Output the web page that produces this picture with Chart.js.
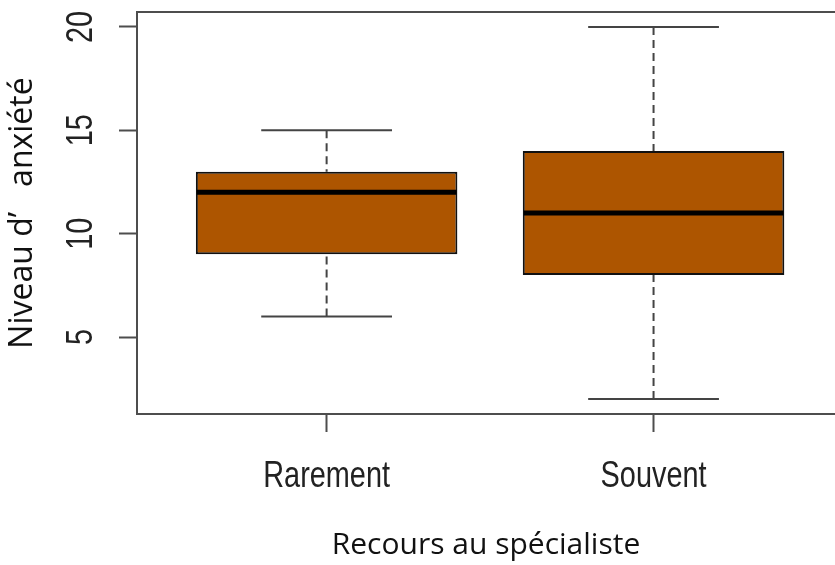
<!DOCTYPE html>
<html>
<head>
<meta charset="utf-8">
<script src="https://cdn.jsdelivr.net/npm/chart.js@4"></script>
<style>
  html, body { margin: 0; padding: 0; background: #fff; }
  #wrap { width: 835px; height: 565px; position: relative; }
</style>
</head>
<body>
<div id="wrap"><canvas id="myChart"></canvas></div>
<script>
// data
const categories = ["Rarement", "Souvent"];
const whiskerLow = [6, 2];
const q1 = [9, 8];
const median = [12, 11];
const q3 = [13, 14];
const whiskerHigh = [15, 20];
const yTicks = [5, 10, 15, 20];

const tickFont = "37px 'Liberation Sans', Arial, sans-serif";
const titleFont = "'Open Sans', 'Noto Sans', sans-serif";
const frameColor = "#4d4d4d";

// setup
const data = {
    labels: categories,
    datasets: [
        {
            label: "Niveau d’anxiété",
            data: categories.map((c, i) => ({ x: i + 1, y: [q1[i], q3[i]] })),
            backgroundColor: "rgb(173, 85, 0)",
            borderColor: "#111",
            borderWidth: 2,
            borderSkipped: false,
            barPercentage: 0.8,
            categoryPercentage: 1.0,
        },
    ],
};

// whiskers, caps and medians drawn from the same scales
const boxWhiskers = {
    id: "boxWhiskers",
    beforeDatasetsDraw(chart) {
        const { ctx, scales: { x, y } } = chart;
        const meta = chart.getDatasetMeta(0);
        ctx.save();
        ctx.strokeStyle = "#444";
        ctx.lineWidth = 2;
        meta.data.forEach((bar, i) => {
            const cx = x.getPixelForValue(i + 1);
            const half = bar.width / 4;
            ctx.setLineDash([8, 5]);
            ctx.beginPath();
            ctx.moveTo(cx, y.getPixelForValue(whiskerHigh[i]));
            ctx.lineTo(cx, y.getPixelForValue(q3[i]));
            ctx.moveTo(cx, y.getPixelForValue(whiskerLow[i]));
            ctx.lineTo(cx, y.getPixelForValue(q1[i]));
            ctx.stroke();
            ctx.setLineDash([]);
            ctx.beginPath();
            [whiskerHigh[i], whiskerLow[i]].forEach((v) => {
                const py = y.getPixelForValue(v);
                ctx.moveTo(cx - half, py);
                ctx.lineTo(cx + half, py);
            });
            ctx.stroke();
        });
        ctx.restore();
    },
    afterDatasetsDraw(chart) {
        const { ctx, scales: { x, y } } = chart;
        const meta = chart.getDatasetMeta(0);
        ctx.save();
        ctx.strokeStyle = "#000";
        ctx.lineWidth = 5;
        meta.data.forEach((bar, i) => {
            const cx = x.getPixelForValue(i + 1);
            const py = y.getPixelForValue(median[i]);
            ctx.beginPath();
            ctx.moveTo(cx - bar.width / 2 + 1, py);
            ctx.lineTo(cx + bar.width / 2 - 1, py);
            ctx.stroke();
        });
        ctx.restore();
    },
    afterDraw(chart) {
        const { ctx, chartArea: { left, top, right }, scales: { x, y } } = chart;
        ctx.save();
        // top side of the plot frame (right side falls outside the picture)
        ctx.strokeStyle = frameColor;
        ctx.lineWidth = 2;
        ctx.beginPath();
        ctx.moveTo(left - 1, top);
        ctx.lineTo(right, top);
        ctx.stroke();

        // narrow tick labels, like the R device font
        ctx.fillStyle = "#222";
        ctx.font = tickFont;
        ctx.textAlign = "center";
        ctx.textBaseline = "alphabetic";
        x.ticks.forEach((t) => {
            ctx.save();
            ctx.translate(x.getPixelForValue(t.value), x.top + 73);
            ctx.scale(0.78, 1);
            ctx.fillText(categories[t.value - 1], 0, 0);
            ctx.restore();
        });
        y.ticks.forEach((t) => {
            ctx.save();
            ctx.translate(y.right - 45, y.getPixelForValue(t.value));
            ctx.rotate(-Math.PI / 2);
            ctx.scale(0.78, 1);
            ctx.fillText(String(t.value), 0, 0);
            ctx.restore();
        });
        ctx.restore();
    },
};

// config
const config = {
    type: "bar",
    data,
    options: {
        responsive: true,
        maintainAspectRatio: false,
        animation: false,
        layout: {
            padding: { top: 12, right: 0, bottom: 0, left: 0 },
        },
        plugins: {
            legend: { display: false },
            tooltip: { enabled: false },
        },
        scales: {
            x: {
                type: "linear",
                min: 0.42,
                max: 2.555,
                offset: false,
                afterBuildTicks(scale) {
                    scale.ticks = categories.map((c, i) => ({ value: i + 1 }));
                },
                afterFit(scale) {
                    scale.height = 151;
                    scale.paddingLeft = 0;
                    scale.paddingRight = 0;
                },
                grid: {
                    offset: false,
                    drawOnChartArea: false,
                    drawTicks: true,
                    tickLength: 18,
                    tickWidth: 2,
                    tickColor: frameColor,
                },
                border: { display: true, color: frameColor, width: 2 },
                ticks: { display: false },
                title: {
                    display: true,
                    text: "Recours au spécialiste",
                    color: "#111",
                    font: { family: titleFont, size: 30 },
                    padding: { top: 0, bottom: 2 },
                },
            },
            y: {
                min: 1.28,
                max: 20.72,
                beginAtZero: false,
                afterBuildTicks(scale) {
                    scale.ticks = yTicks.map((v) => ({ value: v }));
                },
                afterFit(scale) {
                    scale.width = 137;
                    scale.paddingTop = 0;
                    scale.paddingBottom = 0;
                },
                grid: {
                    drawOnChartArea: false,
                    drawTicks: true,
                    tickLength: 18,
                    tickWidth: 2,
                    tickColor: frameColor,
                },
                border: { display: true, color: frameColor, width: 2 },
                ticks: { display: false },
                title: {
                    display: true,
                    text: "Niveau d’   anxiété",
                    color: "#111",
                    font: { family: titleFont, size: 32 },
                    padding: { top: 4, bottom: 0 },
                },
            },
        },
    },
    plugins: [boxWhiskers],
};

// render init block
const myChart = new Chart(document.getElementById("myChart"), config);
</script>
</body>
</html>
